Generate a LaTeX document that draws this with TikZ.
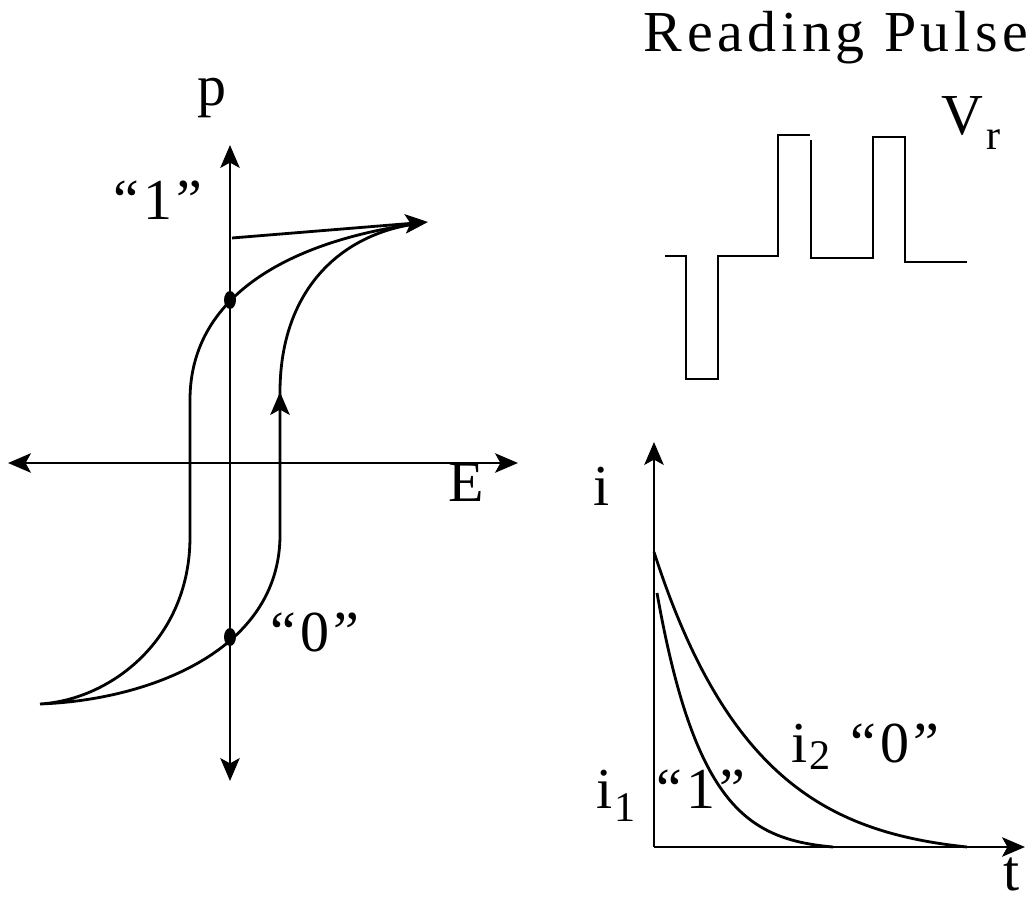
\documentclass[tikz,border=0pt]{standalone}
\usepackage{fontspec}
\setmainfont{Liberation Serif}
\usetikzlibrary{arrows.meta,shapes.geometric}
\newcommand{\bitq}[1]{``\kern2.5pt#1\kern2.5pt''}

\begin{document}
\begin{tikzpicture}[x=0.02cm,y=-0.02cm,line width=1.6pt,
  >={Stealth[length=13pt,width=11pt,inset=3pt]},
  lbl/.style={anchor=base,inner sep=0pt,font=\fontsize{33}{38}\selectfont},
  sublbl/.style={anchor=base,inner sep=0pt,font=\fontsize{24}{28}\selectfont},
  state/.style={ellipse,fill,inner sep=0pt,minimum width=6.8pt,minimum height=10.2pt}]
  \useasboundingbox (0,0) rectangle (1036,901);
  % hysteresis loop
  \coordinate (eL) at (8,463);
  \coordinate (eR) at (518,463);
  \coordinate (pB) at (230,781);
  \coordinate (pT) at (230,145);
  \draw[<->] (eL) -- (eR);
  \draw[<->] (pB) -- (pT);
  \coordinate (rem) at (232,238);
  \coordinate (sat) at (428,222);
  \draw[->] (rem) -- (sat);
  \draw (190,400) .. controls (190,290) and (300,240) .. (415,224);
  \draw (190,400) -- (190,537) .. controls (190,640) and (110,700) .. (40,704)
    .. controls (150,700) and (280,650) .. (280,535) -- (280,390)
    .. controls (281,290) and (340,235) .. (415,224);
  \draw[->] (280,470) -- (280,392);
  \node[state] (one) at (230,300) {};
  \node[state] (zero) at (230,637) {};
  \node[lbl] (plbl) at (212,106) {p};
  \node[lbl] (Elbl) at (466,502) {E};
  \node[lbl] (onelbl) at (158,220) {\bitq{1}};
  \node[lbl] (zerolbl) at (315,652) {\bitq{0}};
  % reading pulse
  \node[lbl,font=\fontsize{33}{38}\selectfont\addfontfeatures{LetterSpace=8}] (title) at (836,52) {Reading Pulse};
  \draw (665,256) -- (686,256) -- (686,379) -- (718,379) -- (718,256) -- (778,256)
    -- (778,135) -- (810,135) (811,140) -- (811,258) -- (873,258) -- (873,137)
    -- (905,137) -- (905,262) -- (967,262);
  \node[lbl] (V) at (962,135) {V};
  \node[sublbl] (Vsub) at (994,150) {r};
  % current response
  \coordinate (O) at (654,847);
  \coordinate (iT) at (654,442);
  \coordinate (tR) at (1025,847);
  \draw[->] (O) -- (iT);
  \draw[->] (O) -- (tR);
  \draw plot[smooth,samples=60,domain=0:313] ({654+\x},{847-295*exp(-\x/95)*(1-(\x/313)^3)});
  \draw plot[smooth,samples=50,domain=0:176] ({657+\x},{847-254*exp(-\x/45)*(1-(\x/176)^3)});
  \node[lbl] (ilbl) at (602,506) {i};
  \node[lbl] (tlbl) at (1012,891) {t};
  \node[lbl] (ione) at (605,809) {i};
  \node[sublbl] (ionesub) at (625,822) {1};
  \node[lbl] (ionestate) at (701,809) {\bitq{1}};
  \node[lbl] (itwo) at (800,763) {i};
  \node[sublbl] (itwosub) at (820,770) {2};
  \node[lbl] (itwostate) at (895,763) {\bitq{0}};
\end{tikzpicture}
\end{document}
